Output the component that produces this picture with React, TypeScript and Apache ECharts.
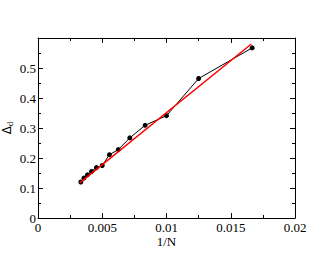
import React, { useEffect, useRef } from "react";
import * as echarts from "echarts";

const invN = [1 / 300, 1 / 280, 1 / 260, 1 / 240, 1 / 220, 1 / 200, 1 / 180, 1 / 160, 1 / 140, 1 / 120, 1 / 100, 1 / 80, 1 / 60];
const delta = [0.12, 0.133, 0.144, 0.155, 0.168, 0.175, 0.211, 0.228, 0.267, 0.309, 0.341, 0.465, 0.567];
const fitX = [0.00325, 0.0166];
const fitY = [0.117, 0.58];
const xTicks = [0, 0.005, 0.01, 0.015, 0.02];
const yTicks = [0, 0.1, 0.2, 0.3, 0.4, 0.5, 0.6];

const FONT = "'Liberation Serif', 'DejaVu Serif', serif";

export default function App() {
  const ref = useRef<HTMLDivElement>(null);
  useEffect(() => {
    if (!ref.current) return;
    const chart = echarts.init(ref.current, null, { renderer: "svg" });
    const axisCommon = {
      axisLine: { show: true, onZero: false, lineStyle: { color: "#000", width: 1 } },
      axisTick: { show: true, inside: true, length: 5, lineStyle: { color: "#000" } },
      minorTick: { show: true, splitNumber: 2, length: 3, lineStyle: { color: "#000" } },
      splitLine: { show: false },
    };
    chart.setOption({
      animation: false,
      backgroundColor: "#fff",
      grid: { left: 38, right: 37, top: 38, bottom: 39, containLabel: false, outerBoundsMode: "none" },
      xAxis: [
        {
          type: "value",
          min: xTicks[0],
          max: xTicks[xTicks.length - 1],
          interval: 0.005,
          ...axisCommon,
          axisLabel: {
            color: "#000",
            fontFamily: FONT,
            fontSize: 13,
            margin: 3,
            formatter: (v: number) => String(parseFloat(v.toFixed(4))),
          },
          name: "1/N",
          nameLocation: "middle",
          nameGap: 17,
          nameMoveOverlap: false,
          nameTextStyle: { color: "#000", fontFamily: FONT, fontSize: 13, verticalAlign: "top" },
        },
        {
          type: "value",
          position: "top",
          min: xTicks[0],
          max: xTicks[xTicks.length - 1],
          interval: 0.005,
          ...axisCommon,
          axisLabel: { show: false },
        },
      ],
      yAxis: [
        {
          type: "value",
          min: yTicks[0],
          max: yTicks[yTicks.length - 1],
          interval: 0.1,
          ...axisCommon,
          axisLabel: {
            color: "#000",
            fontFamily: FONT,
            fontSize: 13,
            margin: 2,
            formatter: (v: number) => (v >= 0.59 ? "" : String(parseFloat(v.toFixed(2)))),
          },
          name: "{a|Δ}{b|d}",
          nameLocation: "middle",
          nameGap: 24,
          nameMoveOverlap: false,
          nameRotate: 90,
          nameTextStyle: {
            color: "#000",
            rich: {
              a: { fontFamily: "DejaVu Sans", fontSize: 12, color: "#000" },
              b: { fontFamily: FONT, fontSize: 9, color: "#000", verticalAlign: "bottom", padding: [6, 0, 0, 0] },
            },
          },
        },
        {
          type: "value",
          position: "right",
          min: yTicks[0],
          max: yTicks[yTicks.length - 1],
          interval: 0.1,
          ...axisCommon,
          axisLabel: { show: false },
        },
      ],
      series: [
        {
          type: "line",
          data: invN.map((x, i) => [x, delta[i]]),
          symbol: "circle",
          symbolSize: 5,
          itemStyle: { color: "#000" },
          lineStyle: { color: "#000", width: 1 },
          z: 2,
        },
        {
          type: "line",
          data: fitX.map((x, i) => [x, fitY[i]]),
          symbol: "none",
          lineStyle: { color: "#ff0000", width: 1.5 },
          z: 3,
        },
      ],
    });
    return () => chart.dispose();
  }, []);
  return <div ref={ref} style={{ position: "fixed", left: 0, top: 0, width: 332, height: 257 }} />;
}
